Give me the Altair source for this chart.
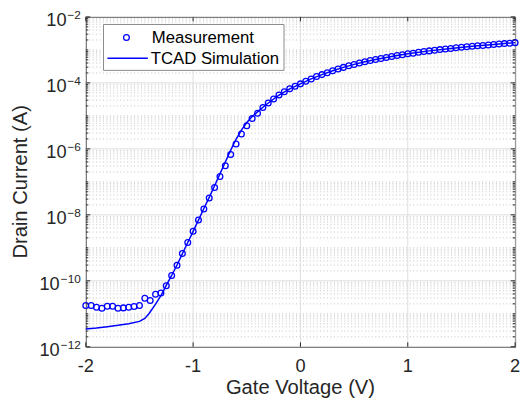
import altair as alt
import pandas as pd

# ---------------- data ----------------
gate_v = [-2.00, -1.95, -1.90, -1.85, -1.80, -1.75, -1.70, -1.65, -1.60, -1.55,
          -1.50, -1.45, -1.40, -1.35, -1.30, -1.25, -1.20, -1.15, -1.10, -1.05,
          -1.00, -0.95, -0.90, -0.85, -0.80, -0.75, -0.70, -0.65, -0.60, -0.55,
          -0.50, -0.45, -0.40, -0.35, -0.30, -0.25, -0.20, -0.15, -0.10, -0.05,
          0.00, 0.05, 0.10, 0.15, 0.20, 0.25, 0.30, 0.35, 0.40, 0.45,
          0.50, 0.55, 0.60, 0.65, 0.70, 0.75, 0.80, 0.85, 0.90, 0.95,
          1.00, 1.05, 1.10, 1.15, 1.20, 1.25, 1.30, 1.35, 1.40, 1.45,
          1.50, 1.55, 1.60, 1.65, 1.70, 1.75, 1.80, 1.85, 1.90, 1.95, 2.00]

meas_i = [1.78e-11, 1.78e-11, 1.58e-11, 1.48e-11, 1.70e-11, 1.70e-11, 1.48e-11, 1.51e-11, 1.58e-11, 1.66e-11,
          1.78e-11, 2.95e-11, 2.51e-11, 3.89e-11, 4.27e-11, 7.08e-11, 1.45e-10, 2.95e-10, 6.76e-10, 1.45e-9,
          3.16e-9, 6.92e-9, 1.51e-8, 3.24e-8, 6.76e-8, 1.45e-7, 3.09e-7, 6.76e-7, 1.41e-6, 2.82e-6,
          5.01e-6, 8.32e-6, 1.20e-5, 1.78e-5, 2.45e-5, 3.24e-5, 4.27e-5, 5.37e-5, 6.61e-5, 7.94e-5,
          9.33e-5, 1.12e-4, 1.32e-4, 1.55e-4, 1.78e-4, 2.04e-4, 2.34e-4, 2.63e-4, 2.95e-4, 3.31e-4,
          3.63e-4, 3.98e-4, 4.37e-4, 4.79e-4, 5.13e-4, 5.50e-4, 5.89e-4, 6.31e-4, 6.76e-4, 7.08e-4,
          7.59e-4, 7.94e-4, 8.51e-4, 8.91e-4, 9.33e-4, 9.77e-4, 1.02e-3, 1.07e-3, 1.11e-3, 1.16e-3,
          1.20e-3, 1.24e-3, 1.29e-3, 1.33e-3, 1.36e-3, 1.41e-3, 1.45e-3, 1.50e-3, 1.55e-3, 1.60e-3, 1.66e-3]

sim_v = [-2.0, -1.9, -1.8, -1.7, -1.6, -1.5, -1.45, -1.41, -1.35, -1.30, -1.25, -1.20, -1.15,
         -1.10, -1.05, -1.00, -0.95, -0.90, -0.85, -0.80, -0.75, -0.70, -0.65, -0.60, -0.55,
         -0.50, -0.45, -0.40, -0.35, -0.30, -0.25, -0.20, -0.10, 0.0, 0.1, 0.2, 0.3, 0.4, 0.5,
         0.6, 0.7, 0.8, 0.9, 1.0, 1.2, 1.4, 1.6, 1.8, 2.0]
sim_i = [3.47e-12, 3.72e-12, 4.07e-12, 4.47e-12, 5.01e-12, 5.89e-12, 7.24e-12, 1.02e-11, 1.95e-11,
         3.55e-11, 7.24e-11, 1.45e-10, 3.02e-10, 6.61e-10, 1.45e-9, 3.16e-9, 6.92e-9, 1.55e-8,
         3.39e-8, 7.59e-8, 1.74e-7, 3.98e-7, 9.12e-7, 1.95e-6, 3.72e-6, 6.31e-6, 9.55e-6, 1.32e-5,
         1.82e-5, 2.45e-5, 3.24e-5, 4.27e-5, 6.61e-5, 9.33e-5, 1.32e-4, 1.78e-4, 2.34e-4, 2.95e-4,
         3.63e-4, 4.37e-4, 5.13e-4, 5.89e-4, 6.76e-4, 7.59e-4, 9.33e-4, 1.11e-3, 1.29e-3, 1.45e-3, 1.66e-3]

x_ticks = [-2, -1, 0, 1, 2]
x_tick_labels = ["-2", "-1", "0", "1", "2"]
y_major = [1e-12, 1e-10, 1e-8, 1e-6, 1e-4, 1e-2]
y_exp_one = ["\u22122", "\u22124", "\u22126", "\u22128"]
y_val_one = [1e-2, 1e-4, 1e-6, 1e-8]
y_exp_two = ["\u221210", "\u221212"]
y_val_two = [1e-10, 1e-12]
y_minor = [k * 10.0 ** n for n in range(-12, -2) for k in range(1, 10)
           if not (k == 1 and n % 2 == 0)]
legend_labels = ["Measurement", "TCAD Simulation"]
x_title = "Gate Voltage (V)"
y_title = "Drain Current (A)"

# ---------------- style ----------------
FONT = "Liberation Sans"
AX = "#262626"
BLUE = "#0000ff"
W, H = 436, 335

xs = alt.Scale(domain=[-2, 2], nice=False, zero=False)
ys = alt.Scale(type="log", domain=[1e-12, 1e-2], nice=False)

meas_df = pd.DataFrame({"v": gate_v, "i": meas_i})
sim_df = pd.DataFrame({"v": sim_v, "i": sim_i})
ymaj_df = pd.DataFrame({"y": y_major})
ymin_df = pd.DataFrame({"y": y_minor})
xt_df = pd.DataFrame({"x": x_ticks, "t": x_tick_labels})
lab1_df = pd.DataFrame({"y": y_val_one, "e": y_exp_one, "b": ["10"] * 4})
lab2_df = pd.DataFrame({"y": y_val_two, "e": y_exp_two, "b": ["10"] * 2})
leg1_df = pd.DataFrame({"t": legend_labels[:1]})
leg2_df = pd.DataFrame({"t": legend_labels[1:]})
xt_title_df = pd.DataFrame({"t": [x_title]})
yt_title_df = pd.DataFrame({"t": [y_title]})


def Y():
    return alt.Y("y:Q", scale=ys, axis=None)


def X():
    return alt.X("x:Q", scale=xs, axis=None)


minor_grid = alt.Chart(ymin_df).mark_rule(color="#c4c4c4", strokeWidth=1, strokeDash=[1, 2.5]).encode(
    y=Y(), x=alt.value(0), x2=alt.value(W))
major_grid = alt.Chart(ymaj_df).mark_rule(color="#dedede", strokeWidth=1).encode(
    y=Y(), x=alt.value(0), x2=alt.value(W))
xgrid = alt.Chart(xt_df).mark_rule(color="#dedede", strokeWidth=1).encode(
    x=X(), y=alt.value(0), y2=alt.value(H))

sim_line = alt.Chart(sim_df).mark_line(color=BLUE, strokeWidth=1.5).encode(
    x=alt.X("v:Q", scale=xs, axis=None),
    y=alt.Y("i:Q", scale=ys, axis=None),
)
meas_pts = alt.Chart(meas_df).mark_point(shape="circle", filled=False, color=BLUE, size=34,
                                          strokeWidth=1.3, opacity=1).encode(
    x=alt.X("v:Q", scale=xs, axis=None), y=alt.Y("i:Q", scale=ys, axis=None))

tick_style = dict(color=AX, strokeWidth=1)
lt_maj = alt.Chart(ymaj_df).mark_rule(**tick_style).encode(y=Y(), x=alt.value(0), x2=alt.value(4.5))
rt_maj = alt.Chart(ymaj_df).mark_rule(**tick_style).encode(y=Y(), x=alt.value(W), x2=alt.value(W - 4.5))
lt_min = alt.Chart(ymin_df).mark_rule(**tick_style).encode(y=Y(), x=alt.value(0), x2=alt.value(2.5))
rt_min = alt.Chart(ymin_df).mark_rule(**tick_style).encode(y=Y(), x=alt.value(W), x2=alt.value(W - 2.5))
bt = alt.Chart(xt_df).mark_rule(**tick_style).encode(x=X(), y=alt.value(H), y2=alt.value(H - 4.5))
tp = alt.Chart(xt_df).mark_rule(**tick_style).encode(x=X(), y=alt.value(0), y2=alt.value(4.5))

# x tick labels and titles
xlab = alt.Chart(xt_df).mark_text(font=FONT, fontSize=18.5, color=AX, align="center",
                                  baseline="alphabetic").encode(
    x=X(), y=alt.value(H + 26), text="t:N")
xtitle = alt.Chart(xt_title_df).mark_text(font=FONT, fontSize=20.5, color=AX, align="center",
                                          baseline="alphabetic").encode(
    x=alt.value(W / 2), y=alt.value(H + 48), text="t:N")
ytitle = alt.Chart(yt_title_df).mark_text(font=FONT, fontSize=20.5, color=AX, align="center",
                                          baseline="alphabetic", angle=270).encode(
    x=alt.value(-60), y=alt.value(H / 2), text="t:N")

# y tick labels 10^n
base1 = alt.Chart(lab1_df).mark_text(font=FONT, fontSize=18.5, color=AX, align="right",
                                     baseline="alphabetic", dy=9.5).encode(
    y=Y(), x=alt.value(-19.5), text="b:N")
exp1 = alt.Chart(lab1_df).mark_text(font=FONT, fontSize=12, color=AX, align="right",
                                    baseline="alphabetic", dy=2).encode(
    y=Y(), x=alt.value(-5), text="e:N")
base2 = alt.Chart(lab2_df).mark_text(font=FONT, fontSize=18.5, color=AX, align="right",
                                     baseline="alphabetic", dy=9.5).encode(
    y=Y(), x=alt.value(-26.5), text="b:N")
exp2 = alt.Chart(lab2_df).mark_text(font=FONT, fontSize=12, color=AX, align="right",
                                    baseline="alphabetic", dy=2).encode(
    y=Y(), x=alt.value(-5), text="e:N")

# legend (decoration)
leg_box = alt.Chart(leg1_df).mark_rect(fill="white", stroke="#8a8a8a", strokeWidth=1).encode(
    x=alt.value(18), x2=alt.value(201.3), y=alt.value(7.7), y2=alt.value(54.3))
leg_pt = alt.Chart(leg1_df).mark_point(shape="circle", filled=False, color=BLUE, size=34,
                                       strokeWidth=1.3, opacity=1).encode(
    x=alt.value(41.3), y=alt.value(21))
leg_ln = alt.Chart(leg2_df).mark_rule(color=BLUE, strokeWidth=1.5).encode(
    x=alt.value(22), x2=alt.value(63), y=alt.value(42))
leg_t1 = alt.Chart(leg1_df).mark_text(font=FONT, fontSize=17, color="#000000", align="left",
                                      baseline="middle").encode(
    x=alt.value(67), y=alt.value(21.5), text="t:N")
leg_t2 = alt.Chart(leg2_df).mark_text(font=FONT, fontSize=17, color="#000000", align="left",
                                      baseline="middle").encode(
    x=alt.value(66), y=alt.value(43), text="t:N")

chart = alt.layer(
    minor_grid, major_grid, xgrid, sim_line, meas_pts,
    lt_maj, rt_maj, lt_min, rt_min, bt, tp,
    xlab, xtitle, ytitle,
    base1, exp1, base2, exp2,
    leg_box, leg_pt, leg_ln, leg_t1, leg_t2,
).properties(
    width=W, height=H,
    autosize=alt.AutoSizeParams(type="none"),
    padding={"left": 79, "top": 6, "right": 7, "bottom": 50},
).configure_view(stroke=AX, strokeWidth=1)

chart.save("out.html", embed_options={"renderer": "svg", "actions": False})
